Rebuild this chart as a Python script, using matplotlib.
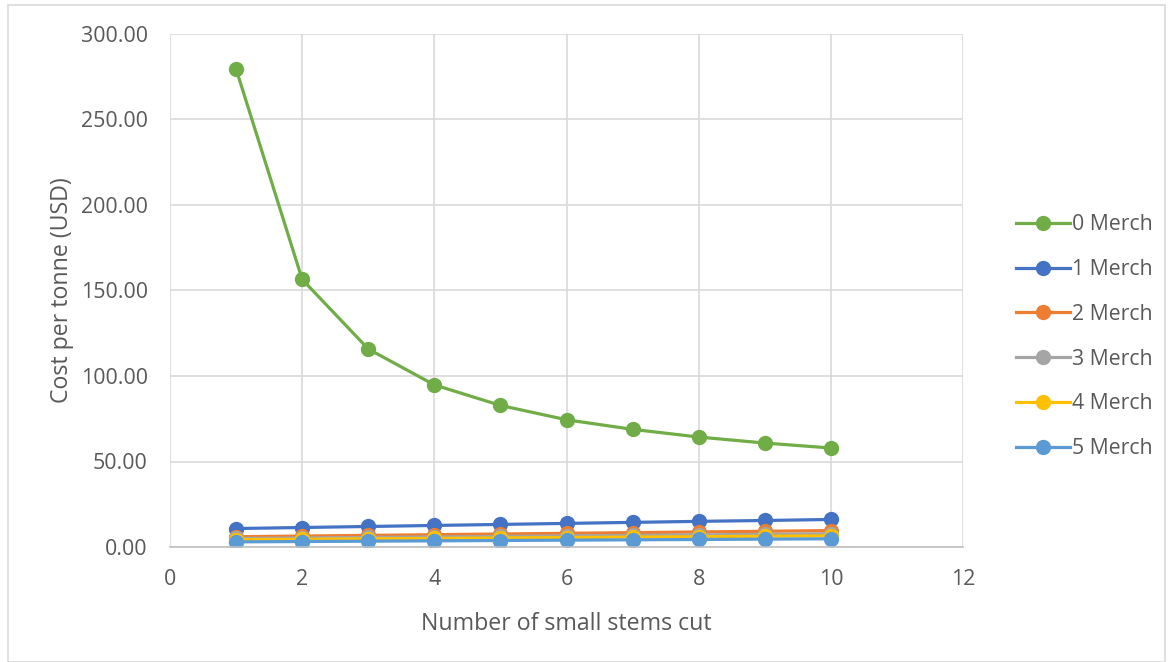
import matplotlib.pyplot as plt
from matplotlib.patches import Rectangle

stems = [1, 2, 3, 4, 5, 6, 7, 8, 9, 10]
series_names = ['0 Merch', '1 Merch', '2 Merch', '3 Merch', '4 Merch', '5 Merch']
merch0 = [279.5, 156.5, 115.8, 94.8, 82.8, 74.4, 68.8, 64.3, 60.8, 57.9]
merch1 = [10.8, 11.4, 12.0, 12.6, 13.2, 13.8, 14.4, 15.0, 15.5, 16.1]
merch2 = [6.0, 6.4, 6.8, 7.2, 7.6, 8.0, 8.4, 8.8, 9.2, 9.6]
merch3 = [5.0, 5.3, 5.6, 5.9, 6.2, 6.5, 6.8, 7.1, 7.4, 7.8]
merch4 = [4.3, 4.5, 4.8, 5.0, 5.3, 5.5, 5.8, 6.0, 6.3, 6.5]
merch5 = [3.0, 3.2, 3.4, 3.6, 3.8, 4.0, 4.2, 4.4, 4.6, 4.8]
colors = ['#70AD47', '#4472C4', '#ED7D31', '#A5A5A5', '#FFC000', '#5B9BD5']

plt.rcParams['font.family'] = ['Open Sans', 'DejaVu Sans']

fig = plt.figure(figsize=(11.73, 6.62), dpi=100)
ax = fig.add_axes([170 / 1173, 1 - 547 / 662, (963 - 170) / 1173, (547 - 34) / 662])

all_series = [merch0, merch1, merch2, merch3, merch4, merch5]
for name, vals, c in zip(series_names, all_series, colors):
    ax.plot(stems, vals, color=c, linewidth=2.3, marker='o', markersize=10, label=name)

ax.set_xlim(0, 12)
ax.set_ylim(0, 300)
ax.set_xticks(range(0, 13, 2))
ax.set_yticks(range(0, 301, 50))
ax.set_yticklabels([f'{v:.2f}' for v in range(0, 301, 50)])
ax.grid(True, color='#D9D9D9', linewidth=1.2)
ax.set_axisbelow(True)
for s in ['top', 'right', 'left']:
    ax.spines[s].set_visible(False)
ax.spines['bottom'].set_color('#BFBFBF')
ax.spines['bottom'].set_linewidth(1.2)
ax.tick_params(length=0, labelsize=15.4, colors='#595959', pad=16)

ax.set_xlabel('Number of small stems cut', fontsize=16.7, color='#595959', labelpad=16)
ax.set_ylabel('Cost per tonne (USD)', fontsize=16.7, color='#595959', labelpad=5)

leg = ax.legend(loc='center left', bbox_to_anchor=(1.053, 0.41), frameon=False,
                borderpad=0, fontsize=15.3, labelspacing=1.12, handlelength=2.55,
                handletextpad=0.1)
for t in leg.get_texts():
    t.set_color('#595959')

fig.patches.append(Rectangle((8 / 1173, 0.0), 1157 / 1173, 1 - 5 / 662,
                             transform=fig.transFigure, fill=False,
                             edgecolor='#D9D9D9', linewidth=1.2))

fig.savefig('out.png', dpi=100)
